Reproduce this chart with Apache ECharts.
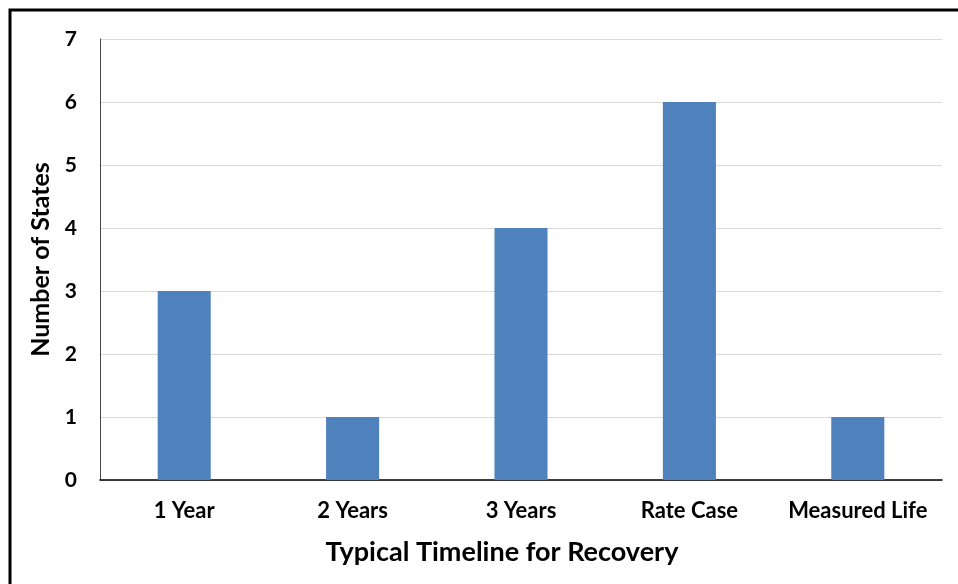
<!DOCTYPE html>
<html><head><meta charset="utf-8">
<script src="https://cdn.jsdelivr.net/npm/echarts@6/dist/echarts.min.js"></script>
<style>html,body{margin:0;padding:0;background:#fff}#c{width:958px;height:584px}</style>
</head><body><div id="c"></div>
<script>
const categories = ['1 Year', '2 Years', '3 Years', 'Rate Case', 'Measured Life'];
const values = [3, 1, 4, 6, 1];
const yTicks = [0, 1, 2, 3, 4, 5, 6, 7];
const chart = echarts.init(document.getElementById('c'));
const FONT = 'Lato';
chart.setOption({
  animation: false,
  grid: { left: 100, right: 16, top: 39, bottom: 104 },
  graphic: [
    { type: 'rect', shape: { x: 10, y: 10, width: 1000, height: 1000 }, style: { fill: 'none', stroke: '#000', lineWidth: 3 } },
    { type: 'text', x: 502, y: 552, style: { text: 'Typical Timeline for Recovery', font: 'bold 27px ' + FONT, fill: '#000', textAlign: 'center', textVerticalAlign: 'middle' } }
  ],
  xAxis: {
    type: 'category', data: categories,
    axisLine: { lineStyle: { color: '#000', width: 1.5 } },
    axisTick: { show: false },
    axisLabel: { interval: 0, margin: 20, color: '#000', fontFamily: FONT, fontWeight: 'bold', fontSize: 22 }
  },
  yAxis: {
    type: 'value', min: yTicks[0], max: yTicks[yTicks.length - 1], interval: 1,
    name: 'Number of States', nameLocation: 'middle', nameGap: 46, nameRotate: 90,
    nameTextStyle: { color: '#000', fontFamily: FONT, fontWeight: 'bold', fontSize: 25 },
    axisLine: { show: true, lineStyle: { color: '#444', width: 1 } },
    axisTick: { show: false },
    splitLine: { lineStyle: { color: '#d9d9d9', width: 1 } },
    axisLabel: { margin: 23, color: '#000', fontFamily: FONT, fontWeight: 'bold', fontSize: 21 }
  },
  series: [{
    type: 'bar', data: values, barWidth: '31.5%',
    itemStyle: { color: '#4f81bd' }
  }]
});
</script></body></html>
